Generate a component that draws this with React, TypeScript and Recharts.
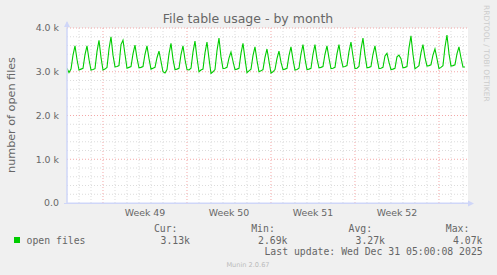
import { LineChart, Line, XAxis, YAxis, ReferenceLine, ReferenceArea } from "recharts"

// open files (thousands), one sample every 4 hours, starting at day 0 00:00
const openFiles = [
  3.08, 2.98, 3.06, 3.38, 3.59, 3.28,
  3.04, 3.06, 3.08, 3.39, 3.59, 3.28,
  3.04, 3.05, 3.07, 3.46, 3.72, 3.33,
  3.04, 3.06, 3.1, 3.52, 3.8, 3.38,
  3.11, 3.12, 3.14, 3.62, 3.72, 3.4,
  3.08, 3.1, 3.12, 3.41, 3.61, 3.31,
  3.09, 3.1, 3.12, 3.4, 3.59, 3.3,
  3.06, 3.08, 3.1, 3.32, 3.47, 3.24,
  3.0, 2.97, 3.05, 3.41, 3.65, 3.29,
  3.05, 3.06, 3.08, 3.39, 3.59, 3.28,
  3.05, 3.04, 3.08, 3.45, 3.7, 3.32,
  3.0, 3.04, 3.06, 3.43, 3.68, 3.3,
  2.96, 3.0, 3.05, 3.48, 3.77, 3.34,
  3.07, 3.08, 3.1, 3.31, 3.45, 3.24,
  3.05, 3.06, 3.08, 3.42, 3.65, 3.3,
  2.98, 3.02, 3.06, 3.37, 3.57, 3.26,
  3.0, 3.02, 3.05, 3.33, 3.52, 3.24,
  2.97, 3.0, 3.05, 3.3, 3.47, 3.22,
  3.05, 3.06, 3.08, 3.37, 3.57, 3.28,
  3.04, 3.05, 3.08, 3.4, 3.62, 3.3,
  3.05, 3.06, 3.08, 3.4, 3.62, 3.3,
  3.09, 3.1, 3.12, 3.4, 3.59, 3.31,
  3.07, 3.08, 3.1, 3.41, 3.62, 3.31,
  3.11, 3.12, 3.14, 3.46, 3.68, 3.36,
  3.07, 3.08, 3.12, 3.51, 3.77, 3.38,
  3.09, 3.1, 3.12, 3.4, 3.59, 3.31,
  3.07, 3.08, 3.1, 3.36, 3.42, 3.22,
  3.05, 3.06, 3.08, 3.34, 3.38, 3.3,
  3.09, 3.1, 3.12, 3.54, 3.82, 3.4,
  3.07, 3.1, 3.14, 3.43, 3.62, 3.33,
  3.13, 3.14, 3.16, 3.38, 3.52, 3.3,
  3.07, 3.1, 3.14, 3.56, 3.84, 3.42,
  3.13, 3.14, 3.16, 3.41, 3.57, 3.32,
  3.11, 3.11,
]

const weekTicks = [6.5, 13.5, 20.5, 27.5]
const weekLabels = ["Week 49", "Week 50", "Week 51", "Week 52"]
const weekStarts = [3, 10, 17, 24, 31]
const yTicks = [0, 1, 2, 3, 4]
const yTickLabels = ["0.0", "1.0 k", "2.0 k", "3.0 k", "4.0 k"]

const statLabels = ["Cur:", "Min:", "Avg:", "Max:"]
const statValues = ["3.13k", "2.69k", "3.27k", "4.07k"]
const seriesName = "open files"
const lastUpdate = "Last update: Wed Dec 31 05:00:08 2025"

const data = openFiles.map((v, i) => ({ t: i / 6, v }))

const X_END = 33.42
const minorX = Array.from({ length: 33 }, (_, i) => i + 1).filter((d) => !weekStarts.includes(d))
const minorY = Array.from({ length: 20 }, (_, i) => (i + 1) / 5).filter((v) => Math.abs(v - Math.round(v)) > 0.01)

const SANS = "'DejaVu Sans', sans-serif"
const MONO = "'DejaVu Sans Mono', monospace"
const FONT = "#666666"
const AXIS = "#CFD6F8"
const MINOR = "#dcdcdc"
const MAJOR = "#f4a8a8"

export default function App() {
  return (
    <div style={{ position: "absolute", left: 0, top: 0, width: 497, height: 275, background: "#f0f0f0" }}>
      <LineChart width={497} height={275} data={data} margin={{ top: 28, right: 29, bottom: 52, left: 7 }}>
        <XAxis
          type="number"
          dataKey="t"
          domain={[0, X_END]}
          ticks={weekTicks}
          tickFormatter={(v: number) => weekLabels[weekTicks.indexOf(v)] ?? ""}
          tick={{ fill: FONT, fontSize: 9.4, fontFamily: SANS }}
          tickLine={false}
          tickMargin={0}
          axisLine={{ stroke: AXIS }}
          height={20}
          allowDataOverflow
        />
        <YAxis
          type="number"
          domain={[0, 4]}
          ticks={yTicks}
          tickFormatter={(v: number) => yTickLabels[yTicks.indexOf(v)] ?? ""}
          tick={{ fill: FONT, fontSize: 9.4, fontFamily: SANS }}
          tickLine={false}
          axisLine={{ stroke: AXIS }}
          width={60}
          allowDataOverflow
        />
        <ReferenceArea x1={0} x2={X_END} y1={0} y2={4} fill="#ffffff" fillOpacity={1} stroke="none" />
        {minorX.map((d) => (
          <ReferenceLine key={"mx" + d} x={d} stroke={MINOR} strokeDasharray="1 2" />
        ))}
        {minorY.map((v) => (
          <ReferenceLine key={"my" + v} y={v} stroke={MINOR} strokeDasharray="1 2" />
        ))}
        {weekStarts.map((d) => (
          <ReferenceLine key={"wx" + d} x={d} stroke={MAJOR} strokeDasharray="1 2" />
        ))}
        {yTicks.slice(1).map((v) => (
          <ReferenceLine key={"wy" + v} y={v} stroke={MAJOR} strokeDasharray="1 2" />
        ))}
        <Line
          type="linear"
          dataKey="v"
          stroke="#00cc00"
          strokeWidth={1.1}
          dot={false}
          isAnimationActive={false}
        />
      </LineChart>
      <svg width={497} height={275} style={{ position: "absolute", left: 0, top: 0, pointerEvents: "none" }}>
        <text x={248} y={23} textAnchor="middle" fill={FONT} fontSize={12.5} fontFamily={SANS}>
          File table usage - by month
        </text>
        <text
          transform="translate(15,115) rotate(-90)"
          textAnchor="middle"
          fill={FONT}
          fontSize={11.2}
          fontFamily={SANS}
        >
          number of open files
        </text>
        <text
          transform="translate(484,5) rotate(90)"
          fill="#cccccc"
          fontSize={7.5}
          fontFamily={SANS}
        >
          RRDTOOL / TOBI OETIKER
        </text>
        {/* axis arrows */}
        <line x1={67} y1={203} x2={67} y2={22} stroke={AXIS} />
        <polygon points="64,27 70,27 67,21" fill={AXIS} />
        <line x1={64} y1={203.5} x2={472} y2={203.5} stroke={AXIS} />
        <polygon points="468,200.5 468,206.5 474,203.5" fill={AXIS} />
        {statLabels.map((s, i) => (
          <text key={s} x={177.5 + i * 97.3} y={232} textAnchor="end" fill={FONT} fontSize={9.8} fontFamily={MONO}>
            {s}
          </text>
        ))}
        <rect x={14} y={237} width={6} height={6} fill="#00cc00" />
        <text x={26.5} y={243.5} fill={FONT} fontSize={9.8} fontFamily={MONO}>
          {seriesName}
        </text>
        {statValues.map((s, i) => (
          <text key={s} x={190 + i * 97.5} y={243.5} textAnchor="end" fill={FONT} fontSize={9.8} fontFamily={MONO}>
            {s}
          </text>
        ))}
        <text x={482.7} y={255.3} textAnchor="end" fill={FONT} fontSize={9.8} fontFamily={MONO}>
          {lastUpdate}
        </text>
        <text x={248} y={266.5} textAnchor="middle" fill="#bbbbbb" fontSize={6.6} fontFamily={SANS}>
          Munin 2.0.67
        </text>
      </svg>
    </div>
  )
}
